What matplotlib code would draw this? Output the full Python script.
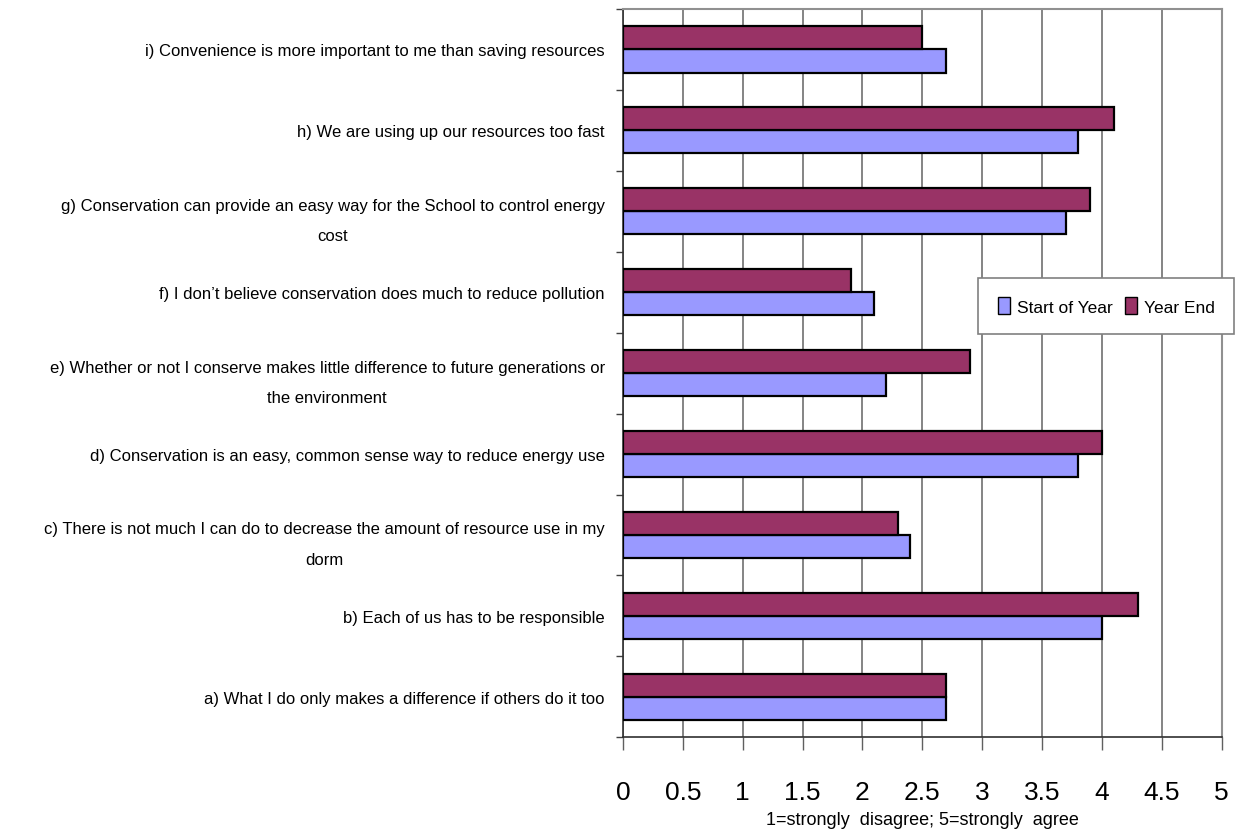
import numpy as np
import matplotlib.pyplot as plt
from matplotlib.patches import Patch

plt.rcParams['font.family'] = ['Liberation Sans Narrow', 'Liberation Sans', 'DejaVu Sans']

# survey statements, bottom to top
statements = [
    'a) What I do only makes a difference if others do it too',
    'b) Each of us has to be responsible',
    'c) There is not much I can do to decrease the amount of resource use in my\ndorm',
    'd) Conservation is an easy, common sense way to reduce energy use',
    'e) Whether or not I conserve makes little difference to future generations or\nthe environment',
    'f) I don\u2019t believe conservation does much to reduce pollution',
    'g) Conservation can provide an easy way for the School to control energy\ncost',
    'h) We are using up our resources too fast',
    'i) Convenience is more important to me than saving resources',
]
start_of_year = [2.7, 4.0, 2.4, 3.8, 2.2, 2.1, 3.7, 3.8, 2.7]
year_end = [2.7, 4.3, 2.3, 4.0, 2.9, 1.9, 3.9, 4.1, 2.5]
xticks = [0, 0.5, 1, 1.5, 2, 2.5, 3, 3.5, 4, 4.5, 5]
xtick_labels = ['0', '0.5', '1', '1.5', '2', '2.5', '3', '3.5', '4', '4.5', '5']

c_start = '#9999FF'
c_end = '#993366'

fig = plt.figure(figsize=(12.41, 8.37), dpi=100)
ax = fig.add_axes([0.502, 0.118, 0.4825, 0.870])

y = np.arange(len(statements))
h = 0.285
ax.barh(y - h / 2, start_of_year, height=h, color=c_start,
        edgecolor='black', linewidth=1.6, zorder=3)
ax.barh(y + h / 2, year_end, height=h, color=c_end,
        edgecolor='black', linewidth=1.6, zorder=3)

ax.set_xlim(0, 5)
ax.set_ylim(-0.5, len(statements) - 0.5)
ax.set_xticks(xticks)
ax.set_xticklabels(xtick_labels)
ax.grid(axis='x', color='#707070', linewidth=1.2, zorder=0)

ax.set_yticks(y)
ax.set_yticklabels(statements, fontsize=12, linespacing=2.3)
for lbl in ax.get_yticklabels():
    lbl.set_multialignment('center')
ax.set_yticks(np.arange(-0.5, len(statements), 1.0), minor=True)
ax.tick_params(axis='y', which='major', length=0, pad=13)
ax.tick_params(axis='y', which='minor', length=5, width=1, color='#404040')
ax.tick_params(axis='x', length=9, width=1, color='#606060',
               labelsize=19, pad=22)

for side in ['top', 'right']:
    ax.spines[side].set_color('#909090')
    ax.spines[side].set_linewidth(1.5)
for side in ['left', 'bottom']:
    ax.spines[side].set_color('#303030')
    ax.spines[side].set_linewidth(1.2)

ax.set_xlabel('1=strongly  disagree; 5=strongly  agree', fontsize=13, labelpad=5)

handles = [Patch(facecolor=c_start, edgecolor='black', label='Start of Year'),
           Patch(facecolor=c_end, edgecolor='black', label='Year End')]
leg = ax.legend(handles=handles, ncol=2, loc='center',
                bbox_to_anchor=(1106 / 1241, 1 - 307 / 837),
                bbox_transform=fig.transFigure, fontsize=12.5,
                fancybox=False, framealpha=1, edgecolor='#808080',
                handlelength=0.7, handleheight=1.1, handletextpad=0.4,
                columnspacing=0.7, borderpad=1.1, borderaxespad=0)
leg.get_frame().set_linewidth(1.2)

fig.savefig('out.png', dpi=100)
